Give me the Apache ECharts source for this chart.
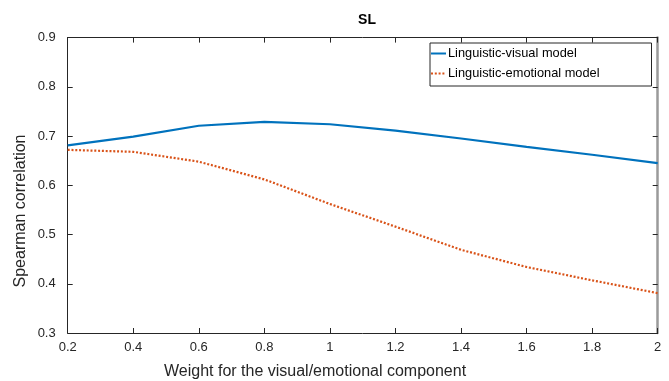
<!DOCTYPE html>
<html>
<head>
<meta charset="utf-8">
<script src="https://cdn.jsdelivr.net/npm/echarts@6/dist/echarts.min.js"></script>
<style>
  html, body { margin: 0; padding: 0; background: #fff; }
  #chart { width: 669px; height: 381px; }
</style>
</head>
<body>
<div id="chart"></div>
<script>
const weights = [0.2, 0.4, 0.6, 0.8, 1.0, 1.2, 1.4, 1.6, 1.8, 2.0];
const visual = [0.681, 0.699, 0.721, 0.729, 0.724, 0.711, 0.695, 0.678, 0.662, 0.645];
const emotional = [0.672, 0.668, 0.648, 0.612, 0.562, 0.516, 0.469, 0.434, 0.407, 0.381];

const font = "Liberation Sans, Arial, Helvetica, sans-serif";
const ink = "#262626";

const chart = echarts.init(document.getElementById("chart"), null, { renderer: "canvas" });

const pairs = (ys) => weights.map((w, i) => [w, ys[i]]);

const xBase = {
  type: "value", min: 0.2, max: 2, interval: 0.2,
  splitLine: { show: false },
  axisTick: { inside: true, length: 5, lineStyle: { color: ink } },
  axisLine: { lineStyle: { color: ink, width: 1 } },
};
const yBase = {
  type: "value", min: 0.3, max: 0.9, interval: 0.1,
  splitLine: { show: false },
  axisTick: { inside: true, length: 5, lineStyle: { color: ink } },
  axisLine: { lineStyle: { color: ink, width: 1 } },
};

chart.setOption({
  animation: false,
  backgroundColor: "#fff",
  title: {
    text: "SL", left: 362, top: 8, textAlign: "center",
    textStyle: { fontFamily: font, fontSize: 14, fontWeight: "bold", color: "#000" }
  },
  grid: { left: 67.7, right: 11.3, top: 37.6, bottom: 48 },
  legend: {
    orient: "vertical", left: 430, top: 43,
    padding: [4, 52, 6, 0],
    itemWidth: 15, itemHeight: 14, itemGap: 7,
    backgroundColor: "#fff", borderColor: ink, borderWidth: 1,
    itemStyle: { opacity: 0 },
    textStyle: { fontFamily: font, fontSize: 12.8, color: "#000", padding: [0, 0, 0, -3] },
    data: ["Linguistic-visual model", "Linguistic-emotional model"]
  },
  xAxis: [
    Object.assign({}, xBase, {
      position: "bottom",
      axisLabel: {
        margin: 8, fontFamily: font, fontSize: 13, color: ink,
        formatter: (v) => String(Math.round(v * 10) / 10)
      }
    }),
    Object.assign({}, xBase, { position: "top", axisLabel: { show: false } })
  ],
  yAxis: [
    Object.assign({}, yBase, {
      position: "left",
      axisLabel: {
        margin: 12, fontFamily: font, fontSize: 13, color: ink,
        formatter: (v) => v.toFixed(1)
      }
    }),
    Object.assign({}, yBase, {
      position: "right",
      axisLabel: { show: false },
      axisLine: { lineStyle: { color: "#9a9a9a", width: 2.5 } }
    })
  ],
  graphic: [
    {
      type: "text", left: 164, top: 364,
      style: { text: "Weight for the visual/emotional component", font: "16px " + font, fill: ink }
    },
    {
      type: "text", x: 21, y: 211, rotation: Math.PI / 2,
      style: {
        text: "Spearman correlation", font: "16px " + font, fill: ink,
        align: "center", verticalAlign: "middle"
      }
    }
  ],
  series: [
    {
      name: "Linguistic-visual model", type: "line", data: pairs(visual),
      showSymbol: false, symbol: "none",
      lineStyle: { color: "#0072BD", width: 2.2 },
      itemStyle: { color: "#0072BD" }
    },
    {
      name: "Linguistic-emotional model", type: "line", data: pairs(emotional),
      showSymbol: false, symbol: "none",
      lineStyle: { color: "#D95319", width: 2.2, type: [2, 1.8] },
      itemStyle: { color: "#D95319" }
    }
  ]
});
</script>
</body>
</html>
